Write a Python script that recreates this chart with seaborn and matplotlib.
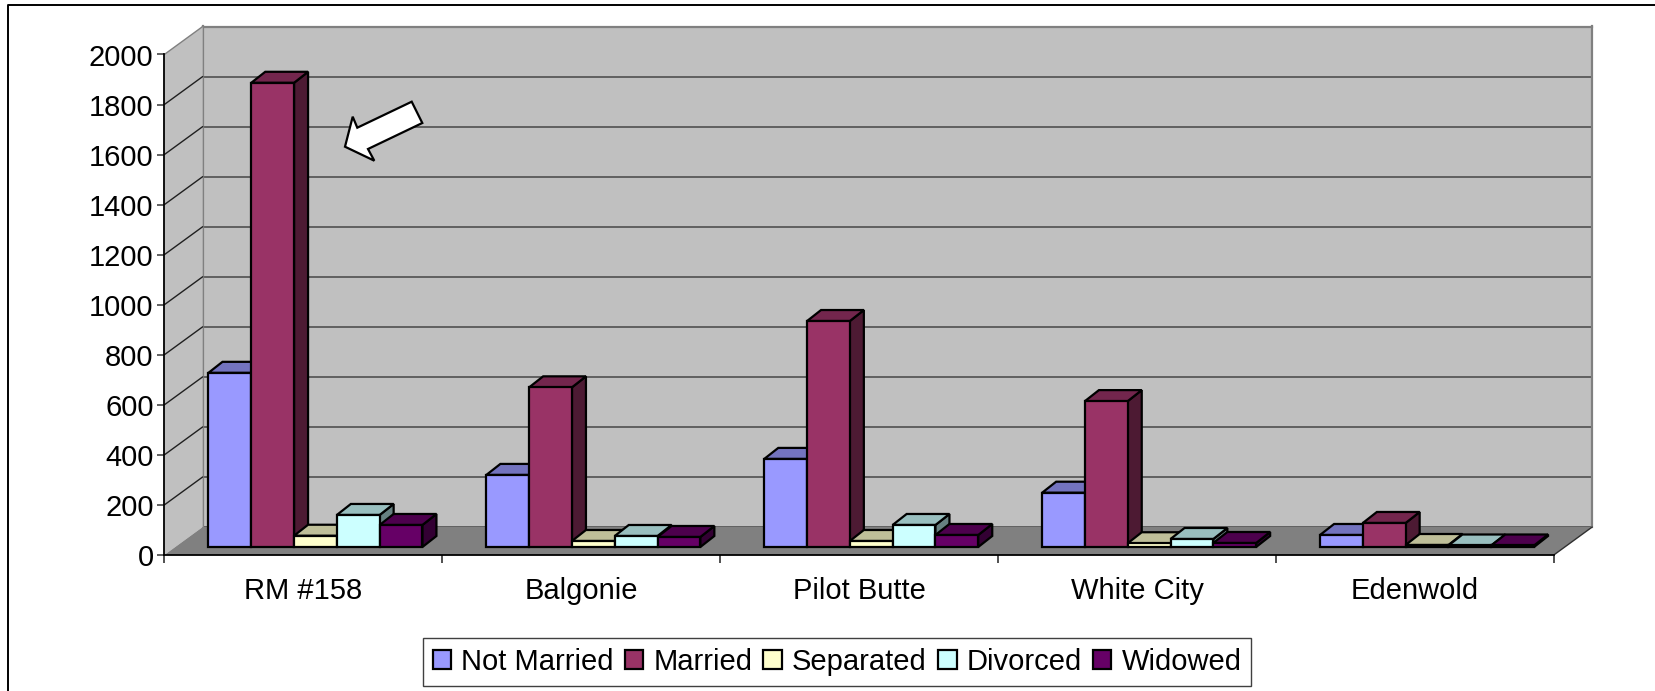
import numpy as np
import pandas as pd
import matplotlib
matplotlib.use("Agg")
import matplotlib.pyplot as plt
from matplotlib.lines import Line2D
from matplotlib.patches import Polygon
from matplotlib.transforms import IdentityTransform
import seaborn as sns

places = ["RM #158", "Balgonie", "Pilot Butte", "White City", "Edenwold"]
statuses = ["Not Married", "Married", "Separated", "Divorced", "Widowed"]
colors = ["#9999FF", "#993366", "#FFFFCC", "#CCFFFF", "#660066"]

not_married = [696, 288, 352, 217, 48]
married = [1855, 638, 903, 583, 96]
separated = [45, 24, 24, 15, 8]
divorced = [128, 44, 88, 32, 6]
widowed = [88, 40, 48, 16, 6]

y_ticks = list(range(0, 2001, 200))

W, H = 1655, 691
EDGE = 1.6

sns.set_theme(style="white")
plt.rcParams["font.family"] = ["Liberation Sans", "DejaVu Sans"]

df = pd.DataFrame({
    "place": places * 5,
    "status": np.repeat(statuses, 5),
    "count": not_married + married + separated + divorced + widowed,
})

fig = plt.figure(figsize=(W / 100, H / 100), dpi=100, facecolor="white")


def plane(left, baseline, zorder):
    # one axes per depth plane of the fake 3D box, all with the same scales
    width, height = 1389.5, 500.5
    ax = fig.add_axes([left / W, (H - baseline) / H, width / W, height / H], zorder=zorder)
    ax.set_xlim(-0.5, 4.5)
    ax.set_ylim(0, 2000)
    return ax


ax_back = plane(202.7, 527, 1)
ax_front = plane(164.3, 555, 2)
ax_bars = plane(176.5, 547, 3)

# back wall
ax_back.set_facecolor("#C0C0C0")
ax_back.set_xticks([])
ax_back.set_yticks(y_ticks)
ax_back.tick_params(length=0, labelleft=False)
ax_back.grid(True, axis="y", color="#606060", linewidth=1.4)
ax_back.set_axisbelow(True)
for name, spine in ax_back.spines.items():
    spine.set_color("#808080")
    spine.set_linewidth(1.6)
ax_back.spines["bottom"].set_visible(False)


def disp(ax, x, y):
    return ax.transData.transform((x, y))


def face(ax, points, color, zorder, edge="none", lw=0):
    ax.add_patch(Polygon(points, closed=True, facecolor=color, edgecolor=edge, linewidth=lw,
                         transform=IdentityTransform(), clip_on=False, zorder=zorder))


# left wall and floor
face(ax_back, [disp(ax_front, -0.5, 0), disp(ax_front, -0.5, 2000),
               disp(ax_back, -0.5, 2000), disp(ax_back, -0.5, 0)], "#C0C0C0", 3)
face(ax_back, [disp(ax_front, -0.5, 0), disp(ax_front, 4.5, 0),
               disp(ax_back, 4.5, 0), disp(ax_back, -0.5, 0)], "#808080", 3)
for tick in y_ticks[1:]:
    a, b = disp(ax_front, -0.5, tick), disp(ax_back, -0.5, tick)
    line_color = "#808080" if tick == 2000 else "#202020"
    ax_back.add_line(Line2D([a[0], b[0]], [a[1], b[1]], color=line_color, linewidth=1.0,
                            transform=IdentityTransform(), clip_on=False, zorder=4))
a, b = disp(ax_front, 4.5, 0), disp(ax_back, 4.5, 0)
ax_back.add_line(Line2D([a[0], b[0]], [a[1], b[1]], color="#303030", linewidth=1.0,
                        transform=IdentityTransform(), clip_on=False, zorder=4))

# front axis lines, ticks and labels
ax_front.patch.set_visible(False)
for side in ["top", "right"]:
    ax_front.spines[side].set_visible(False)
for side in ["left", "bottom"]:
    ax_front.spines[side].set_color("black")
    ax_front.spines[side].set_linewidth(1.3)
ax_front.set_yticks(y_ticks)
ax_front.set_xticks(np.arange(-0.5, 5, 1))
ax_front.set_xticklabels([])
ax_front.set_xticks(range(5), places, minor=True)
ax_front.tick_params(axis="x", which="major", bottom=True, length=5.8, width=1.1, color="#202020")
ax_front.tick_params(axis="x", which="minor", bottom=False, length=0, labelsize=21, pad=15.5, labelcolor="black")
ax_front.tick_params(axis="y", left=True, length=5.2, width=1.4, color="#606060", labelsize=21, pad=2.5,
                     labelcolor="black")

# bars
sns.barplot(data=df, x="place", y="count", hue="status", hue_order=statuses, palette=colors,
            order=places, width=0.77, gap=0, saturation=1, edgecolor="black", linewidth=EDGE,
            ax=ax_bars, err_kws={"linewidth": 0})
ax_bars.set_xlim(-0.5, 4.5)
ax_bars.set_ylim(0, 2000)
ax_bars.patch.set_visible(False)
ax_bars.set_xlabel("")
ax_bars.set_ylabel("")
ax_bars.set_xticks([])
ax_bars.set_yticks([])
for spine in ax_bars.spines.values():
    spine.set_visible(False)

# top and side faces, painted left to right so nearer bars cover them
DEPTH = np.array([14, 11])
for k, container in enumerate(ax_bars.containers):
    base = matplotlib.colors.to_rgb(colors[k])
    top_color = tuple(c * 0.75 for c in base)
    side_color = tuple(c * 0.5 for c in base)
    for bar in container:
        x0, x1 = bar.get_x(), bar.get_x() + bar.get_width()
        h = bar.get_height()
        tl, tr, br = disp(ax_bars, x0, h), disp(ax_bars, x1, h), disp(ax_bars, x1, 0)
        face(ax_bars, [br, tr, tr + DEPTH, br + DEPTH], side_color, 10 + 3 * k, "black", EDGE)
        face(ax_bars, [tl, tr, tr + DEPTH, tl + DEPTH], top_color, 11 + 3 * k, "black", EDGE)
        bar.set_clip_on(False)
        bar.set_zorder(12 + 3 * k)

# legend under the chart
sns.move_legend(ax_bars, "center", bbox_to_anchor=(837 / W, (H - 662) / H), bbox_transform=fig.transFigure,
                ncol=5, title=None, frameon=True, fontsize=21, handlelength=0.64, handleheight=0.64,
                handletextpad=0.34, columnspacing=0.38, borderpad=0.34, borderaxespad=0, fancybox=False,
                framealpha=1, edgecolor="#404040", labelcolor="black")
ax_bars.get_legend().set_zorder(40)

# hand drawn arrow pointing at the tall bar
arrow_px = [(345, 146.7), (352.7, 116.7), (357.3, 127.7), (411.7, 101.7), (422.3, 123),
            (368, 149), (374.3, 160.7)]
face(ax_bars, [(x, H - y) for x, y in arrow_px], "white", 50, "black", EDGE)

# outer frame, cut off by the image edges
fig.add_artist(Line2D([8 / W, 8 / W, 1], [0, (H - 4.5) / H, (H - 4.5) / H], color="black", linewidth=1.4))

plt.savefig("out.png", dpi=100)
